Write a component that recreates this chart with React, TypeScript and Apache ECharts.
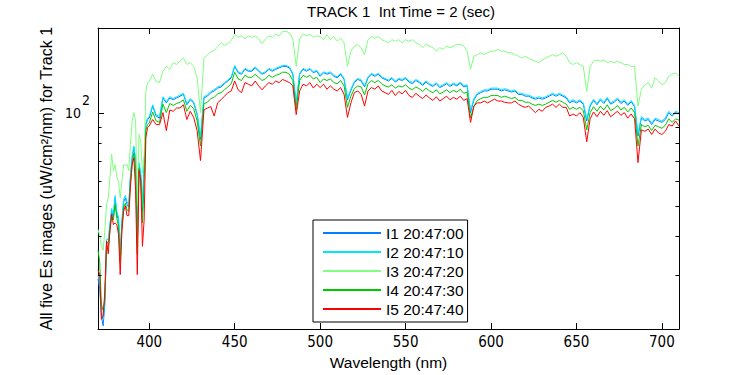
import React, { useEffect, useRef } from 'react';
import * as echarts from 'echarts';

// Wavelength grid (nm): 1 nm steps 370-400, 2 nm steps 402-710
const WAVELENGTHS: number[] = [];
for (let w = 370; w <= 400; w += 1) WAVELENGTHS.push(w);
for (let w = 402; w <= 710; w += 2) WAVELENGTHS.push(w);

const SERIES_NAMES = ['I1 20:47:00', 'I2 20:47:10', 'I3 20:47:20', 'I4 20:47:30', 'I5 20:47:40'];
const SERIES_COLORS = ['#0080ff', '#00e6ff', '#80ff80', '#00c800', '#ff0000'];

const I1 = [
  29, 27, 22, 20.5, 24, 38, 38, 43, 48, 46, 53, 47, 45, 34.5, 44, 51.5, 53, 50.5, 49.5, 62, 71.5, 77, 70, 37.7, 68, 63, 48, 68, 91.5, 95, 96,
  105, 97.5, 96, 111.5, 107.5, 111.5, 110, 111.5, 113, 114.5, 106, 110, 107.5, 98.5, 82, 111.5,
  113, 116, 117.5, 120, 121, 124, 126.5, 129.5, 141, 134.5, 133, 138, 136, 136, 139.5, 136, 133, 134.5, 138, 136, 138, 139.5, 141, 141, 139.5, 133, 106, 133, 138, 136, 138, 134.5, 136,
  131, 134.5, 133, 134.5, 131, 129.5, 133, 128, 110, 118, 125, 128, 126.5, 121, 129.5, 133, 131, 133, 129.5, 128, 126.5, 129, 125.5, 128, 127, 129, 125.5, 124, 127, 125, 122.5, 125.5, 123, 121.5, 124, 120.5, 122, 124, 121.5, 123.5, 122, 124.5, 121, 122, 100, 110, 114.5, 116, 117.5, 117.5, 119, 119, 119,
  117.5, 118.5, 117.5, 116.5, 117.5, 114.5, 114.5, 113, 113, 111.5, 110.5, 111.5, 110.5, 111.5, 113, 114.5, 113, 114.5, 113, 111.5, 107.5, 109, 107.5, 109, 106.5, 94, 105, 109.5, 106, 110, 107, 111, 106.5, 108, 110.5, 107, 109, 105.5, 108.5, 104.5, 84, 96, 94, 95, 91.5, 95, 94, 93, 95, 100, 97.5, 100, 99,
];

const I2 = [
  30, 28, 23, 21.5, 25, 39, 39, 44, 49, 47, 54, 48, 46, 35.5, 45, 52.5, 54, 51.5, 50.5, 63, 72.5, 78, 71, 39, 69, 64, 49.5, 69, 92.5, 96, 97,
  106, 98.5, 97, 112.5, 108.5, 112.5, 111, 112.5, 114, 115.5, 107, 111, 108.5, 99.5, 83.5, 112.5,
  114, 117, 118.5, 121, 122, 125, 127.5, 130.5, 142, 135.5, 134, 139, 137, 137, 140.5, 137, 134, 135.5, 139, 137, 139, 140.5, 142, 142, 140.5, 134, 107.5, 134, 139, 137, 139, 135.5, 137,
  132, 135.5, 134, 135.5, 132, 130.5, 134, 129, 111.5, 119, 126, 129, 127.5, 122, 130.5, 134, 132, 134, 130.5, 129, 127.5, 130, 126.5, 129, 128, 130, 126.5, 125, 128, 126, 123.5, 126.5, 124, 122.5, 125, 121.5, 123, 125, 122.5, 124.5, 123, 125.5, 122, 123, 101.5, 111, 115.5, 117, 118.5, 118.5, 120, 120, 120,
  118.5, 119.5, 118.5, 117.5, 118.5, 115.5, 115.5, 114, 114, 112.5, 111.5, 112.5, 111.5, 112.5, 114, 115.5, 114, 115.5, 114, 112.5, 108.5, 110, 108.5, 110, 107.5, 95.5, 106, 110.5, 107, 111, 108, 112, 107.5, 109, 111.5, 108, 110, 106.5, 109.5, 105.5, 85.5, 97, 95, 96, 92.5, 96, 95, 94, 96, 101, 98.5, 101, 100,
];

const I3 = [
  42, 40, 37, 36, 41.5, 50.5, 53, 62, 73.5, 65, 68, 62, 60, 53, 60, 68, 67.5, 68, 65, 79, 94, 100, 94, 50, 85, 81, 64, 71.5, 117, 125, 126,
  133, 126, 125, 136, 141, 138, 145, 143, 147, 150, 143, 145, 141, 129.5, 100, 150,
  153.5, 157, 159, 163, 168.5, 165, 167, 171, 179, 175, 177, 173, 177, 175, 177, 173, 167, 173, 177, 175, 179, 177, 183, 183, 181, 173, 141, 173, 179, 177, 179, 175, 177,
  176, 172, 178.5, 172, 176, 170, 174, 168, 141, 158, 164, 166, 162, 154, 172, 176, 174, 176, 172, 170, 168, 172, 170, 172, 168, 172, 170, 172, 168, 166, 162, 166, 164, 162, 158, 162, 160, 164, 162, 164, 166, 166, 164, 158, 138, 152, 154, 156, 154, 156, 158, 158, 160,
  158, 158, 156, 156, 154, 152, 150, 152, 150, 148, 146.5, 145, 148, 150, 152, 154, 152, 154, 156, 152, 145, 143, 145, 143, 141, 117, 141, 146.5, 148, 146.5, 148, 145, 146.5, 145, 146.5, 145, 143, 143, 141, 141, 105, 119, 123, 125, 120, 129.5, 126.5, 123, 125, 131, 133, 134.5, 131,
];

const I4 = [
  36, 33, 24, 23, 25, 37, 37, 42, 46.5, 45, 50.5, 45.5, 43, 33, 43, 49.5, 51, 48.5, 48, 60, 69, 74, 66, 35, 66, 61, 44, 60, 88, 91.5, 92.5,
  100.5, 94, 93, 106.5, 100, 107, 105.5, 107, 108, 110, 101, 105.5, 103, 94, 78, 107,
  108, 111, 112, 115, 116, 118.5, 121, 124, 135, 128.5, 127, 132, 130, 130, 133, 130, 127, 128.5, 132, 130, 132, 133, 135, 135, 133, 127, 102, 127, 132, 130, 132, 128.5, 130,
  125, 128.5, 127, 128.5, 125, 124, 127, 122, 104, 113, 119.5, 122, 121, 114, 124, 127, 125, 127, 124, 122, 121, 123, 120, 122, 121, 123, 120, 118.5, 121, 119.5, 117, 120, 117.5, 116, 118.5, 115, 116.5, 118.5, 116, 118, 116.5, 119, 115.5, 116.5, 96, 105, 109.5, 111, 112, 112, 113.5, 113.5, 113.5,
  112, 113, 112, 111, 112, 109.5, 109.5, 108, 108, 106.5, 105.5, 106.5, 105.5, 106.5, 108, 109.5, 108, 109.5, 108, 106.5, 102.5, 104, 102.5, 104, 101.5, 88, 100, 104.5, 101, 105, 102, 106, 101.5, 103, 105.5, 102, 104, 100.5, 103.5, 100, 78, 91.5, 90, 91, 87.5, 91, 90, 89, 91, 95.5, 93, 95.5, 94.5,
];

const I5 = [
  31, 30, 21.5, 22, 26.5, 38.5, 35, 41.5, 47, 43.5, 44, 43.5, 40.5, 30, 41.5, 48, 50, 46.5, 46.5, 57.5, 68, 71.5, 56, 30, 65, 60.5, 37, 45, 83, 89.5, 90.5,
  95, 91.5, 91.5, 100, 87.5, 102, 101, 103.5, 103.5, 106, 95, 101, 96.5, 87.5, 70, 102,
  103.5, 104.5, 97.5, 107.5, 110, 113, 116, 117.5, 126.5, 118.5, 116, 125, 123.5, 122, 126.5, 122, 118.5, 122, 125, 123.5, 126.5, 125, 128, 126.5, 125, 122, 98.5, 117.5, 123.5, 122, 125, 120, 123.5,
  120.5, 123.5, 119, 122, 119, 117.5, 120.5, 114.5, 96.5, 107.5, 116, 117.5, 114.5, 105, 117.5, 120.5, 119, 122, 117.5, 116, 114.5, 118, 113.5, 117, 115, 118, 113.5, 112, 115.5, 113, 111, 114, 111.5, 109.5, 112.5, 109, 111, 113, 110, 112, 110.5, 113, 109.5, 111, 93, 105, 107.5, 107.5, 109, 107.5, 109, 110.5, 109,
  109, 108, 107.5, 107.5, 109, 106.5, 105, 104, 105, 102.5, 100, 102.5, 101, 104, 105, 106.5, 104, 106.5, 104, 104, 97.5, 99, 97.5, 100, 96.5, 80.5, 95.5, 100.5, 97, 101, 98, 101.5, 97, 99, 101, 98, 100, 96, 99, 95.5, 69, 88, 87, 88.5, 85, 88.5, 86, 85, 87, 91.5, 90.5, 94, 90.5,
];

const SERIES_VALUES = [I1, I2, I3, I4, I5];

const X_MIN = 370;
const X_MAX = 710;
const X_TICKS = [400, 450, 500, 550, 600, 650, 700];
const Y_MIN = 20;
const Y_MAX = 187.6;
const Y_MAJOR_TICKS = [100];
const Y_MINOR_TICKS = [30, 40, 50, 60, 70, 80, 90];

const TITLE = 'TRACK 1  Int Time = 2 (sec)';
const X_NAME = 'Wavelength (nm)';
const Y_NAME = 'All five Es images (uW/cm\u00B2/nm) for Track 1';

const SANS = "'Liberation Sans', Arial, Helvetica, sans-serif";
const NARROW = "'Liberation Sans Narrow', 'DejaVu Sans Condensed', 'Liberation Sans', sans-serif";

export default function App() {
  const ref = useRef<HTMLDivElement>(null);

  useEffect(() => {
    if (!ref.current) return;
    const chart = echarts.init(ref.current, undefined, { renderer: 'svg' });

    const lineSeries = SERIES_NAMES.map((name, k) => ({
      name,
      type: 'line',
      xAxisIndex: 0,
      yAxisIndex: 0,
      data: WAVELENGTHS.map((w, i) => [w, SERIES_VALUES[k][i]]),
      symbol: 'none',
      showSymbol: false,
      lineStyle: { color: SERIES_COLORS[k], width: 1 },
      itemStyle: { color: SERIES_COLORS[k] },
      emphasis: { disabled: true },
      silent: true,
    }));

    const tickValues = [
      ...Y_MAJOR_TICKS.map((v) => [X_MIN, v, 1]),
      ...Y_MINOR_TICKS.map((v) => [X_MIN, v, 0]),
    ];

    const tickSeries = {
      type: 'custom',
      coordinateSystem: 'cartesian2d',
      xAxisIndex: 0,
      yAxisIndex: 0,
      silent: true,
      clip: false,
      z: 10,
      data: tickValues,
      renderItem: (params: any, api: any) => {
        const v = api.value(1);
        const major = api.value(2) === 1;
        const len = major ? 6 : 3.5;
        const l = api.coord([X_MIN, v]);
        const r = api.coord([X_MAX, v]);
        const y = Math.round(l[1]) + 0.5;
        const style = { stroke: '#000', lineWidth: 1 };
        return {
          type: 'group',
          children: [
            { type: 'line', shape: { x1: l[0], y1: y, x2: l[0] + len, y2: y }, style },
            { type: 'line', shape: { x1: r[0] - len, y1: y, x2: r[0], y2: y }, style },
          ],
        };
      },
    };

    const option: any = {
      animation: false,
      backgroundColor: '#fff',
      title: {
        text: TITLE,
        left: 307,
        top: 4,
        padding: 0,
        textStyle: { fontFamily: SANS, fontSize: 15, fontWeight: 'normal', color: '#000' },
      },
      grid: { left: 98, top: 28, width: 581, height: 303, containLabel: false },
      legend: {
        data: SERIES_NAMES,
        orient: 'vertical',
        left: 313,
        top: 220,
        icon: 'rect',
        itemWidth: 58,
        itemHeight: 2,
        itemGap: 3,
        padding: [5, 4, 5, 10],
        backgroundColor: '#fff',
        borderColor: '#000',
        borderWidth: 1,
        borderRadius: 0,
        selectedMode: false,
        textStyle: { fontFamily: SANS, fontSize: 15.5, lineHeight: 16, color: '#000' },
      },
      xAxis: [
        {
          type: 'value',
          min: X_MIN,
          max: X_MAX,
          position: 'bottom',
          name: X_NAME,
          nameLocation: 'middle',
          nameGap: 20,
          nameTextStyle: { fontFamily: SANS, fontSize: 15.5, color: '#000' },
          axisLine: { show: true, lineStyle: { color: '#000', width: 1 } },
          axisTick: { show: true, inside: true, length: 6, customValues: X_TICKS, lineStyle: { color: '#000' } },
          axisLabel: { customValues: X_TICKS, margin: 5, fontFamily: NARROW, fontSize: 15, color: '#000' },
          splitLine: { show: false },
        },
        {
          type: 'value',
          min: X_MIN,
          max: X_MAX,
          position: 'top',
          axisLine: { show: true, lineStyle: { color: '#000', width: 1 } },
          axisTick: { show: true, inside: true, length: 6, customValues: X_TICKS, lineStyle: { color: '#000' } },
          axisLabel: { show: false },
          splitLine: { show: false },
        },
      ],
      yAxis: [
        {
          type: 'log',
          logBase: 10,
          min: Y_MIN,
          max: Y_MAX,
          position: 'left',
          name: Y_NAME,
          nameLocation: 'middle',
          nameRotate: 90,
          nameGap: 35,
          nameTextStyle: { fontFamily: SANS, fontSize: 16, color: '#000' },
          axisLine: { show: true, lineStyle: { color: '#000', width: 1 } },
          axisTick: { show: false },
          axisLabel: {
            showMinLabel: false,
            showMaxLabel: false,
            margin: 8,
            formatter: (v: number) => (Math.abs(v - 100) < 1e-6 ? '{a|10}{b|2}' : ''),
            rich: {
              a: { fontFamily: NARROW, fontSize: 14, lineHeight: 40, color: '#000' },
              b: { fontFamily: NARROW, fontSize: 14, lineHeight: 14, verticalAlign: 'top', color: '#000', padding: [0, 0, 0, 1] },
            },
          },
          splitLine: { show: false },
        },
        {
          type: 'log',
          logBase: 10,
          min: Y_MIN,
          max: Y_MAX,
          position: 'right',
          axisLine: { show: true, lineStyle: { color: '#000', width: 1 } },
          axisTick: { show: false },
          axisLabel: { show: false },
          splitLine: { show: false },
        },
      ],
      series: [...lineSeries, tickSeries],
    };

    chart.setOption(option);
    return () => chart.dispose();
  }, []);

  return (
    <div
      ref={ref}
      style={{ position: 'fixed', left: 0, top: 0, width: 750, height: 375, background: '#fff' }}
    />
  );
}
